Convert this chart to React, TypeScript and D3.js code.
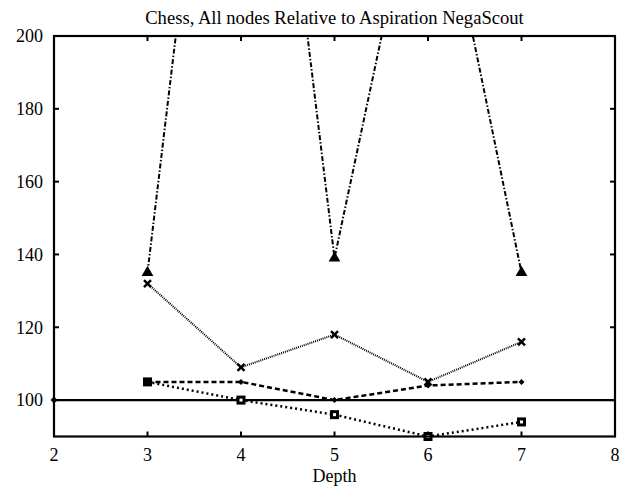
import React from "react";
import * as d3 from "d3";

const depths = [3, 4, 5, 6, 7];
const triangleSeries = [135, 350, 139, 260, 135];
const crossSeries = [132, 109, 118, 105, 116];
const diamondSeries = [105, 105, 100, 104, 105];
const squareSeries = [105, 100, 96, 90, 94];
const baselineDepths = [2, 8];
const baselineValues = [100, 100];
const xTicks = [2, 3, 4, 5, 6, 7, 8];
const yTicks = [100, 120, 140, 160, 180, 200];
const title = "Chess, All nodes Relative to Aspiration NegaScout";
const xLabel = "Depth";

const W = 624, H = 489;
const L = 54, R = 615, T = 36, B = 436.5;
const FONT = "'Liberation Serif', 'DejaVu Serif', serif";
const FS = 18;

export default function App() {
  const x = d3.scaleLinear().domain([2, 8]).range([L, R]);
  const y = d3.scaleLinear().domain([90, 200]).range([B, T]);
  const line = d3.line<[number, number]>().x(d => x(d[0])).y(d => y(d[1]));
  const pts = (vals: number[]) => depths.map((d, i) => [d, vals[i]] as [number, number]);
  const tri = d3.symbol().type(d3.symbolTriangle).size(60)();
  const tick = 5;

  return (
    <svg width={W} height={H} style={{ position: "absolute", left: 0, top: 0, background: "#fff" }} fontFamily={FONT}>
      <defs>
        <clipPath id="plot"><rect x={L} y={T} width={R - L} height={B - T} /></clipPath>
      </defs>
      <text x={(L + R) / 2} y={24} textAnchor="middle" fontSize={18.6}>{title}</text>
      {xTicks.map(t => (
        <g key={"x" + t}>
          <line x1={x(t)} x2={x(t)} y1={B} y2={B - tick} stroke="#000" strokeWidth={2} />
          <line x1={x(t)} x2={x(t)} y1={T} y2={T + tick} stroke="#000" strokeWidth={2} />
          <text x={x(t)} y={461} textAnchor="middle" fontSize={FS}>{t}</text>
        </g>
      ))}
      {yTicks.map(t => (
        <g key={"y" + t}>
          <line x1={L} x2={L + tick} y1={y(t)} y2={y(t)} stroke="#000" strokeWidth={2} />
          <line x1={R} x2={R - tick} y1={y(t)} y2={y(t)} stroke="#000" strokeWidth={2} />
          <text x={43} y={y(t)} dy="0.35em" textAnchor="end" fontSize={FS}>{t}</text>
        </g>
      ))}
      <text x={(L + R) / 2} y={482} textAnchor="middle" fontSize={FS}>{xLabel}</text>

      <g clipPath="url(#plot)" fill="none">
        <path d={line(baselineDepths.map((d, i) => [d, baselineValues[i]] as [number, number])) || ""} stroke="#000" strokeWidth={2.2} />
        <path d={line(pts(triangleSeries)) || ""} stroke="#000" strokeWidth={2} strokeDasharray="5,2,1.5,2" />
        <path d={line(pts(crossSeries)) || ""} stroke="#000" strokeWidth={2} strokeDasharray="1,1" />
        <path d={line(pts(diamondSeries)) || ""} stroke="#000" strokeWidth={2.5} strokeDasharray="5,3" />
        <path d={line(pts(squareSeries)) || ""} stroke="#000" strokeWidth={2.5} strokeDasharray="2,3" />
      </g>

      {pts(triangleSeries).filter(p => p[1] <= 200).map((p, i) => (
        <path key={"t" + i} d={tri || ""} transform={`translate(${x(p[0])},${y(p[1])})`} fill="#000" />
      ))}
      {pts(crossSeries).map((p, i) => (
        <g key={"c" + i} transform={`translate(${x(p[0])},${y(p[1])})`} stroke="#000" strokeWidth={2.5}>
          <line x1={-3.5} y1={-3.5} x2={3.5} y2={3.5} />
          <line x1={-3.5} y1={3.5} x2={3.5} y2={-3.5} />
        </g>
      ))}
      {pts(squareSeries).map((p, i) => (
        <g key={"s" + i} transform={`translate(${x(p[0])},${y(p[1])})`}>
          <rect x={-4.5} y={-4.5} width={9} height={9} fill="#000" />
          <rect x={-1.5} y={-1.5} width={3} height={3} fill="#fff" />
        </g>
      ))}
      {pts(diamondSeries).map((p, i) => (
        <path key={"d" + i} d="M0,-3L3,0L0,3L-3,0Z" transform={`translate(${x(p[0])},${y(p[1])})`} fill="#000" />
      ))}
      <path d="M0,-3.5L3.5,0L0,3.5L-3.5,0Z" transform={`translate(${x(baselineDepths[0])},${y(baselineValues[0])})`} fill="#000" />

      <rect x={L} y={T} width={R - L} height={B - T} fill="none" stroke="#000" strokeWidth={2.2} />
    </svg>
  );
}
